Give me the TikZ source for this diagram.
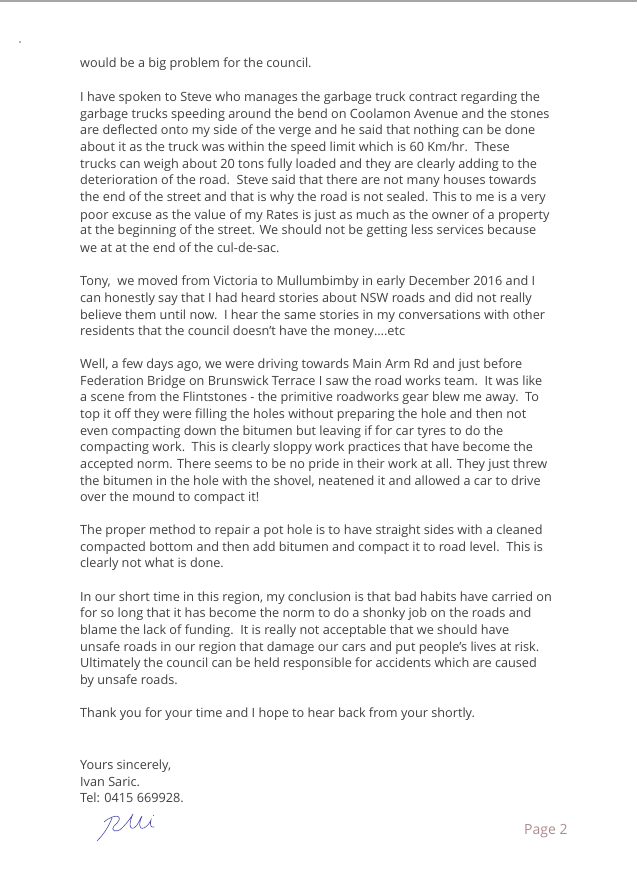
\documentclass[tikz,border=0pt]{standalone}
\usepackage{fontspec}
\setmainfont{Open Sans}
\begin{document}
\begin{tikzpicture}[x=1pt,y=-1pt]
        \tikzstyle{ln} = [anchor=base west, inner sep=0pt, font=\fontsize{12.7}{14}\selectfont, text=black!75]
        \useasboundingbox[fill=white] (0,0) rectangle (637,893);
        \draw[black!35, line width=1.2] (0,1) -- (637,1);
        \fill[black!60] (20,42) circle (0.9);

        \node (p1a) [ln] at (80,68) {would be a big problem for the council.};

        \node (p2a) [ln] at (80,102) {I have spoken to Steve who manages the garbage truck contract regarding the};
        \node (p2b) [ln] at (80,119) {garbage trucks speeding around the bend on Coolamon Avenue and the stones};
        \node (p2c) [ln] at (80,135) {are deflected onto my side of the verge and he said that nothing can be done};
        \node (p2d) [ln] at (80,152) {about it as the truck was within the speed limit which is 60 Km/hr.\ \ These};
        \node (p2e) [ln] at (80,169) {trucks can weigh about 20 tons fully loaded and they are clearly adding to the};
        \node (p2f) [ln] at (80,185) {deterioration of the road.\ \ Steve said that there are not many houses towards};
        \node (p2g) [ln] at (80,202) {the end of the street and that is why the road is not sealed. This to me is a very};
        \node (p2h) [ln] at (80,219) {poor excuse as the value of my Rates is just as much as the owner of a property};
        \node (p2i) [ln] at (80,235) {at the beginning of the street. We should not be getting less services because};
        \node (p2j) [ln] at (80,252) {we at at the end of the cul-de-sac.};

        \node (p3a) [ln] at (80,285) {Tony,\ \ we moved from Victoria to Mullumbimby in early December 2016 and I};
        \node (p3b) [ln] at (80,302) {can honestly say that I had heard stories about NSW roads and did not really};
        \node (p3c) [ln] at (80,319) {believe them until now.\ \ I hear the same stories in my conversations with other};
        \node (p3d) [ln] at (80,335) {residents that the council doesn’t have the money….etc};

        \node (p4a) [ln] at (80,368) {Well, a few days ago, we were driving towards Main Arm Rd and just before};
        \node (p4b) [ln] at (80,385) {Federation Bridge on Brunswick Terrace I saw the road works team.\ \ It was like};
        \node (p4c) [ln] at (80,401) {a scene from the Flintstones - the primitive roadworks gear blew me away.\ \ To};
        \node (p4d) [ln] at (80,418) {top it off they were filling the holes without preparing the hole and then not};
        \node (p4e) [ln] at (80,435) {even compacting down the bitumen but leaving if for car tyres to do the};
        \node (p4f) [ln] at (80,451) {compacting work.\ \ This is clearly sloppy work practices that have become the};
        \node (p4g) [ln] at (80,468) {accepted norm. There seems to be no pride in their work at all. They just threw};
        \node (p4h) [ln] at (80,485) {the bitumen in the hole with the shovel, neatened it and allowed a car to drive};
        \node (p4i) [ln] at (80,501) {over the mound to compact it!};

        \node (p5a) [ln] at (80,534) {The proper method to repair a pot hole is to have straight sides with a cleaned};
        \node (p5b) [ln] at (80,551) {compacted bottom and then add bitumen and compact it to road level.\ \ This is};
        \node (p5c) [ln] at (80,567) {clearly not what is done.};

        \node (p6a) [ln] at (80,601) {In our short time in this region, my conclusion is that bad habits have carried on};
        \node (p6b) [ln] at (80,617) {for so long that it has become the norm to do a shonky job on the roads and};
        \node (p6c) [ln] at (80,634) {blame the lack of funding.\ \ It is really not acceptable that we should have};
        \node (p6d) [ln] at (80,651) {unsafe roads in our region that damage our cars and put people’s lives at risk.};
        \node (p6e) [ln] at (80,667) {Ultimately the council can be held responsible for accidents which are caused};
        \node (p6f) [ln] at (80,684) {by unsafe roads.};

        \node (p7a) [ln] at (80,717) {Thank you for your time and I hope to hear back from your shortly.};

        \node (sig1) [ln] at (80,769) {Yours sincerely,};
        \node (sig2) [ln] at (80,786) {Ivan Saric.};
        \node (sig3) [ln] at (80,802) {Tel: 0415 669928.};

        % signature
        \draw[blue!55!black!70, line width=0.6, line cap=round]
            (97,841) .. controls (104,834) and (109,826) .. (112,818)
            (104,822) .. controls (116,812) and (126,816) .. (114,826)
            .. controls (110,830) and (116,834) .. (122,828)
            .. controls (128,822) and (132,816) .. (133,814)
            .. controls (130,820) and (128,830) .. (134,828)
            .. controls (138,826) and (140,818) .. (142,816)
            .. controls (139,822) and (138,830) .. (144,828)
            .. controls (148,826) and (150,822) .. (151,820)
            .. controls (150,824) and (150,828) .. (154,827)
            (153,815) -- (154,816);
        \node (page) [anchor=base west, inner sep=0pt, text=red!30!black!45, font=\fontsize{14}{16}\selectfont] at (524,834) {Page 2};
\end{tikzpicture}
\end{document}
